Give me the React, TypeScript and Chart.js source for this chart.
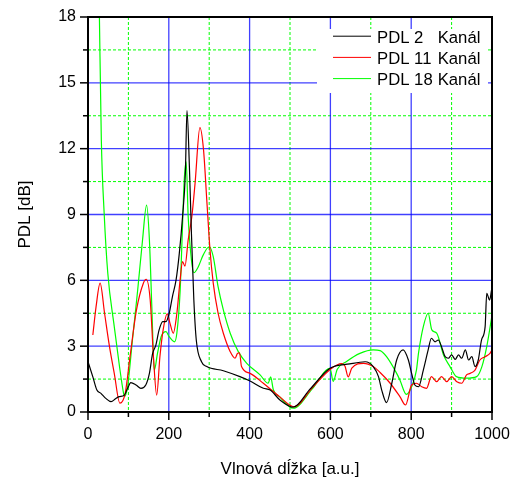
import React, { useEffect, useRef } from "react";
import { Chart, registerables } from "chart.js";

Chart.register(...registerables);

// ---------- data ----------
const SERIES_NAMES = ["PDL 2", "PDL 11", "PDL 18"];
const LEGEND_SUFFIX = "Kanál";
const X_TITLE = "Vlnová dĺžka [a.u.]";
const Y_TITLE = "PDL [dB]";

const blackX = [0, 12, 22, 32, 44, 57, 69, 77, 90, 98, 106, 119, 131, 143, 152, 160, 168, 176, 185, 193, 201, 209, 218, 226, 234, 241, 245, 251, 256, 262, 268, 281, 294, 335, 376, 401, 434, 451, 475, 508, 550, 599, 648, 686, 706, 719, 727, 739, 752, 764, 780, 793, 801, 809, 818, 830, 842, 850, 859, 867, 875, 884, 892, 900, 909, 917, 925, 934, 942, 950, 958, 966, 974, 983, 987, 994, 999];
const blackY = [2.29, 1.6, 1.0, 0.85, 0.62, 0.47, 0.62, 0.7, 0.77, 1.08, 1.34, 1.23, 1.08, 1.23, 1.76, 2.67, 3.05, 3.74, 4.12, 4.12, 4.5, 5.26, 6.02, 7.23, 8.9, 10.88, 13.73, 11.18, 8.14, 5.1, 3.28, 2.29, 2.07, 1.88, 1.61, 1.41, 1.08, 1.0, 0.55, 0.22, 1.05, 1.99, 2.19, 2.29, 2.07, 1.61, 1.0, 0.43, 1.31, 2.37, 2.83, 2.37, 1.76, 1.23, 1.15, 1.91, 2.83, 3.36, 3.2, 3.28, 2.98, 2.52, 2.45, 2.6, 2.4, 2.6, 2.45, 2.83, 2.37, 2.52, 2.07, 2.37, 3.28, 3.89, 5.41, 5.1, 5.56];

const redX = [12, 20, 30, 41, 53, 65, 79, 92, 104, 120, 137, 144, 154, 162, 170, 178, 186, 196, 203, 211, 220, 228, 234, 240, 248, 257, 265, 277, 286, 294, 302, 310, 322, 335, 352, 364, 370, 375, 380, 401, 434, 474, 510, 555, 600, 628, 636, 644, 653, 682, 706, 723, 748, 772, 786, 801, 813, 826, 838, 850, 863, 875, 888, 900, 913, 925, 937, 946, 958, 970, 983, 995, 1000];
const redY = [3.51, 4.8, 5.87, 4.5, 3.0, 1.76, 0.4, 0.85, 2.52, 4.65, 5.87, 6.05, 5.1, 2.52, 0.77, 2.52, 3.74, 4.47, 4.04, 3.59, 4.5, 6.02, 6.85, 6.65, 7.84, 8.9, 10.42, 12.96, 11.94, 9.66, 7.38, 5.87, 4.5, 3.59, 2.75, 2.45, 2.67, 2.7, 2.07, 1.76, 1.31, 0.7, 0.24, 1.1, 1.95, 2.2, 2.1, 1.6, 2.0, 2.22, 2.07, 1.8, 1.31, 0.7, 0.32, 1.23, 1.31, 1.15, 1.08, 1.61, 1.38, 1.61, 1.38, 1.61, 1.38, 1.31, 1.69, 1.76, 1.91, 2.37, 2.52, 2.67, 2.83];

const greenX = [18, 28, 33, 40, 49, 65, 78, 88, 90, 98, 110, 123, 135, 145, 152, 158, 164, 172, 181, 193, 201, 214, 220, 228, 234, 238, 243, 248, 256, 262, 273, 285, 300, 310, 322, 335, 352, 372, 393, 426, 446, 452, 459, 474, 508, 555, 599, 607, 617, 640, 673, 706, 723, 739, 764, 772, 788, 801, 813, 818, 830, 842, 851, 863, 880, 896, 912, 937, 962, 975, 987, 1000];
const greenY = [30, 18.3, 12.4, 9.06, 6.32, 3.89, 2.07, 0.85, 0.7, 1.15, 3.28, 5.56, 7.84, 9.43, 7.84, 4.8, 1.9, 2.67, 3.43, 3.66, 3.43, 3.2, 3.6, 5.5, 8.5, 10.5, 11.4, 8.9, 6.93, 6.35, 6.62, 7.15, 7.53, 7.08, 5.71, 4.65, 3.59, 2.75, 2.22, 1.69, 1.31, 1.6, 1.0, 0.7, 0.17, 1.05, 1.99, 1.4, 1.95, 2.3, 2.67, 2.83, 2.8, 2.52, 1.76, 1.46, 0.8, 1.15, 1.91, 2.67, 3.89, 4.5, 3.74, 3.59, 2.6, 2.07, 1.61, 1.54, 1.61, 2.07, 2.98, 4.4];

const SERIES_COLORS = ["#000000", "#ff0000", "#00ff00"];

const X_MIN = 0, X_MAX = 1000, X_STEP = 200;
const Y_MIN = 0, Y_MAX = 18, Y_STEP = 3;
const X_MAJOR_GRID = [200, 400, 600, 800];
const X_MINOR_GRID = [100, 300, 500, 700, 900];
const Y_MAJOR_GRID = [3, 6, 9, 12, 15];
const Y_MINOR_GRID = [1.5, 4.5, 7.5, 10.5, 13.5, 16.5];
const X_MAJOR_TICKS = [0, 200, 400, 600, 800, 1000];
const Y_MAJOR_TICKS = [0, 3, 6, 9, 12, 15, 18];

const FONT = "'Liberation Sans', Arial, sans-serif";

const toPoints = (xs: number[], ys: number[]) => xs.map((x, i) => ({ x, y: ys[i] }));

const decorPlugin = {
  id: "decor",
  beforeDatasetsDraw(chart: any) {
    const { ctx, chartArea: a, scales } = chart;
    const xs = scales.x, ys = scales.y;
    ctx.save();
    // minor grid
    ctx.strokeStyle = "#00ff00";
    ctx.lineWidth = 1;
    ctx.setLineDash([3, 2]);
    for (const v of X_MINOR_GRID) {
      const p = xs.getPixelForValue(v);
      ctx.beginPath(); ctx.moveTo(p, a.top); ctx.lineTo(p, a.bottom); ctx.stroke();
    }
    for (const v of Y_MINOR_GRID) {
      const p = ys.getPixelForValue(v);
      ctx.beginPath(); ctx.moveTo(a.left, p); ctx.lineTo(a.right, p); ctx.stroke();
    }
    // major grid
    ctx.setLineDash([]);
    ctx.strokeStyle = "rgba(0,0,255,0.75)";
    ctx.lineWidth = 1.3;
    for (const v of X_MAJOR_GRID) {
      const p = xs.getPixelForValue(v);
      ctx.beginPath(); ctx.moveTo(p, a.top); ctx.lineTo(p, a.bottom); ctx.stroke();
    }
    for (const v of Y_MAJOR_GRID) {
      const p = ys.getPixelForValue(v);
      ctx.beginPath(); ctx.moveTo(a.left, p); ctx.lineTo(a.right, p); ctx.stroke();
    }
    ctx.restore();
  },
  afterDatasetsDraw(chart: any) {
    const { ctx, chartArea: a, scales } = chart;
    const xs = scales.x, ys = scales.y;
    ctx.save();
    // legend
    ctx.fillStyle = "#ffffff";
    ctx.fillRect(317, 29, 171, 64);
    ctx.font = `16.7px ${FONT}`;
    ctx.textBaseline = "alphabetic";
    ctx.textAlign = "left";
    SERIES_NAMES.forEach((name, i) => {
      const base = 42.7 + i * 21.2;
      ctx.strokeStyle = SERIES_COLORS[i];
      ctx.lineWidth = 1;
      ctx.beginPath(); ctx.moveTo(333, base - 6.5); ctx.lineTo(371, base - 6.5); ctx.stroke();
      ctx.fillStyle = "#000000";
      ctx.fillText(name, 377, base);
      ctx.fillText(LEGEND_SUFFIX, 437.7, base);
    });
    // frame
    ctx.strokeStyle = "#000000";
    ctx.lineWidth = 2;
    ctx.strokeRect(a.left, a.top, a.right - a.left, a.bottom - a.top);
    // ticks
    ctx.lineWidth = 1.5;
    for (const v of X_MAJOR_TICKS) {
      const p = xs.getPixelForValue(v);
      ctx.beginPath(); ctx.moveTo(p, a.bottom); ctx.lineTo(p, a.bottom + 8); ctx.stroke();
    }
    for (const v of X_MINOR_GRID) {
      const p = xs.getPixelForValue(v);
      ctx.beginPath(); ctx.moveTo(p, a.bottom); ctx.lineTo(p, a.bottom + 5); ctx.stroke();
    }
    for (const v of Y_MAJOR_TICKS) {
      const p = ys.getPixelForValue(v);
      ctx.beginPath(); ctx.moveTo(a.left, p); ctx.lineTo(a.left - 8, p); ctx.stroke();
    }
    for (const v of Y_MINOR_GRID) {
      const p = ys.getPixelForValue(v);
      ctx.beginPath(); ctx.moveTo(a.left, p); ctx.lineTo(a.left - 5, p); ctx.stroke();
    }
    ctx.restore();
  },
};

export default function App() {
  const ref = useRef<HTMLCanvasElement>(null);
  useEffect(() => {
    if (!ref.current) return;
    const datasets = [
      toPoints(blackX, blackY),
      toPoints(redX, redY),
      toPoints(greenX, greenY),
    ].map((data, i) => ({
      label: SERIES_NAMES[i],
      data,
      borderColor: SERIES_COLORS[i],
      backgroundColor: SERIES_COLORS[i],
      borderWidth: 1.2,
      pointRadius: 0,
      cubicInterpolationMode: "monotone",
      fill: false,
    }));
    const chart = new Chart(ref.current, {
      type: "line",
      data: { datasets },
      options: {
        animation: false,
        responsive: false,
        devicePixelRatio: 1,
        layout: { padding: { left: 0, top: 17, right: 28, bottom: 0 } },
        plugins: { legend: { display: false }, tooltip: { enabled: false } },
        scales: {
          x: {
            type: "linear",
            min: X_MIN,
            max: X_MAX,
            grid: { display: false, drawTicks: false },
            border: { display: false },
            ticks: { stepSize: X_STEP, color: "#000", font: { family: FONT, size: 16 }, padding: 13, maxRotation: 0, callback: (v: any) => String(v) },
            title: { display: true, text: X_TITLE, color: "#000", font: { family: FONT, size: 17 }, padding: { top: 0, bottom: 0 } },
            afterFit: (s: any) => { s.height = 68; s.paddingLeft = 0; s.paddingRight = 0; },
          },
          y: {
            type: "linear",
            min: Y_MIN,
            max: Y_MAX,
            grid: { display: false, drawTicks: false },
            border: { display: false },
            ticks: { stepSize: Y_STEP, color: "#000", font: { family: FONT, size: 16 }, padding: 12, callback: (v: any) => String(v) },
            title: { display: true, text: Y_TITLE, color: "#000", font: { family: FONT, size: 17 }, padding: { top: 15, bottom: 0 } },
            afterFit: (s: any) => { s.width = 88; s.paddingTop = 0; s.paddingBottom = 0; },
          },
        },
      } as any,
      plugins: [decorPlugin],
    });
    return () => chart.destroy();
  }, []);
  return (
    <div style={{ position: "fixed", left: 0, top: 0, width: 520, height: 480, background: "#fff" }}>
      <canvas ref={ref} width={520} height={480} style={{ display: "block", width: 520, height: 480 }} />
    </div>
  );
}
